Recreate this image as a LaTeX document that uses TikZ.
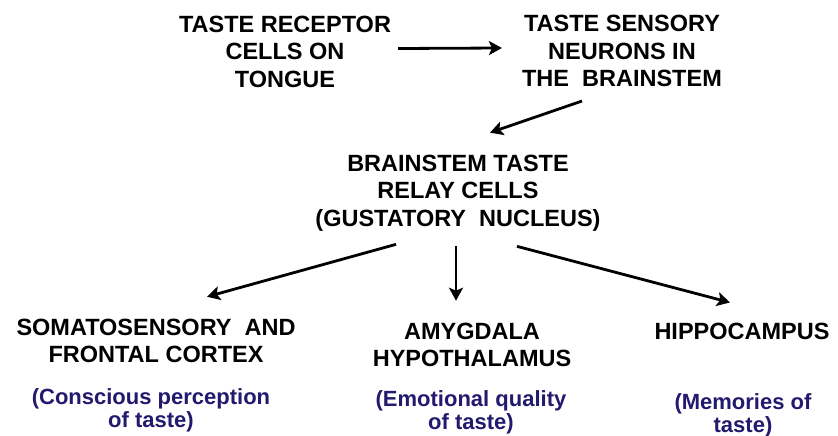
\documentclass[tikz,border=0pt]{standalone}
\usepackage{fontspec}
\setmainfont{Liberation Sans}
\usetikzlibrary{arrows.meta}
\definecolor{notenavy}{RGB}{35,25,110}

\begin{document}
\begin{tikzpicture}[x=1pt, y=-1pt,
  stage/.style={font=\bfseries\fontsize{23.5}{27.5}\selectfont, align=center, inner sep=0pt},
  note/.style={font=\bfseries\fontsize{22}{23}\selectfont, text=notenavy, align=center, inner sep=0pt},
  flow/.style={-{Stealth[length=13pt, width=14pt, inset=3pt]}, line width=2.8pt}]
  \useasboundingbox (0,0) rectangle (838,436);
  \node[stage] (receptor) at (285,51.5) {TASTE RECEPTOR\\CELLS ON\\TONGUE};
  \node[stage] (sensory) at (622,51) {TASTE SENSORY\\NEURONS IN\\THE\ \ BRAINSTEM};
  \node[stage] (relay) at (458,193) {BRAINSTEM TASTE\\RELAY CELLS\\(GUSTATORY\ \ NUCLEUS)};
  \node[stage] (cortex) at (156,341) {SOMATOSENSORY\ \ AND\\FRONTAL CORTEX};
  \node[stage] (amygdala) at (472,345) {AMYGDALA\\HYPOTHALAMUS};
  \node[stage] (hippo) at (742,331) {HIPPOCAMPUS};
  \node[note] (cortexnote) at (151,410) {(Conscious perception\\of taste)};
  \node[note] (amygdalanote) at (471,412) {(Emotional quality\\of taste)};
  \node[note] (hipponote) at (743,415) {(Memories of\\taste)};
  % arrows
  \draw[flow] ([xshift=7pt, yshift=3pt]receptor.east) -- ([xshift=-20pt, yshift=3pt]sensory.west);
  \draw[flow] ([xshift=-40pt, yshift=-14pt]sensory.south) -- ([xshift=32pt, yshift=22pt]relay.north);
  \draw[flow] ([xshift=-62pt, yshift=-13pt]relay.south) -- ([xshift=51pt, yshift=22pt]cortex.north);
  \draw[flow] ([xshift=-2pt, yshift=-15pt]relay.south) -- ([xshift=-16pt, yshift=22pt]amygdala.north);
  \draw[flow] ([xshift=59pt, yshift=-15pt]relay.south) -- ([xshift=-12pt, yshift=20pt]hippo.north);
\end{tikzpicture}
\end{document}
